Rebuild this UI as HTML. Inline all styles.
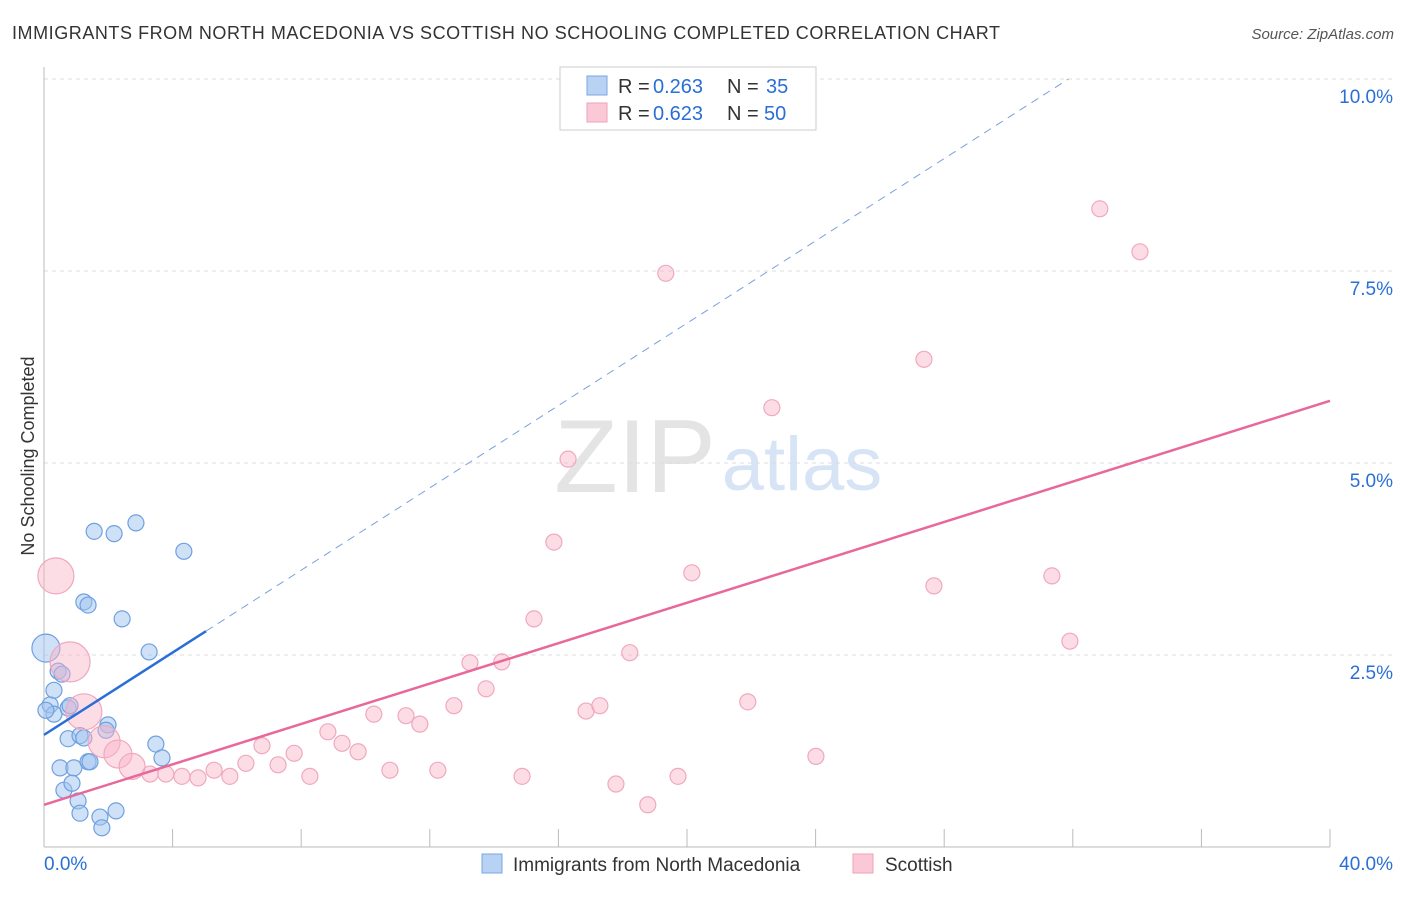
<!DOCTYPE html>
<html><head><meta charset="utf-8"><style>
body{margin:0;background:#fff;font-family:"Liberation Sans",sans-serif;}
svg text{font-family:"Liberation Sans",sans-serif;}
</style></head><body>
<svg id="chart" width="1406" height="892">
<text x="12" y="39" font-size="18" fill="#333" textLength="988" lengthAdjust="spacing">IMMIGRANTS FROM NORTH MACEDONIA VS SCOTTISH NO SCHOOLING COMPLETED CORRELATION CHART</text>
<text x="1394" y="39" font-size="15" fill="#555" font-style="italic" text-anchor="end">Source: ZipAtlas.com</text>
<text x="635" y="492" font-size="104" fill="#e4e4e4" font-family="Liberation Serif" text-anchor="middle">ZIP</text>
<text x="802" y="490" font-size="76" fill="#d6e4f5" text-anchor="middle">atlas</text>
<text transform="translate(34,456) rotate(-90)" font-size="18" fill="#333" text-anchor="middle">No Schooling Completed</text>
<g id="grid"></g><g id="marks"></g>
<g>
<rect x="560" y="67" width="256" height="63" fill="#fff" stroke="#ccc"/>
<rect x="587" y="76" width="20" height="19" fill="#b8d2f4" stroke="#7aa6e0"/>
<rect x="587" y="103" width="20" height="19" fill="#fac8d6" stroke="#f0a0b8"/>
<text x="618" y="93" font-size="20" fill="#333">R = </text>
<text x="653" y="93" font-size="20" fill="#2a6fd6">0.263</text>
<text x="727" y="93" font-size="20" fill="#333">N = </text>
<text x="766" y="93" font-size="20" fill="#2a6fd6">35</text>
<text x="618" y="120" font-size="20" fill="#333">R = </text>
<text x="653" y="120" font-size="20" fill="#2a6fd6">0.623</text>
<text x="727" y="120" font-size="20" fill="#333">N = </text>
<text x="764" y="120" font-size="20" fill="#2a6fd6">50</text>
</g>
<g>
<rect x="482" y="854" width="20" height="19" fill="#b8d2f4" stroke="#7aa6e0"/>
<text x="513" y="871" font-size="19" fill="#333">Immigrants from North Macedonia</text>
<rect x="853" y="854" width="20" height="19" fill="#fac8d6" stroke="#f0a0b8"/>
<text x="885" y="871" font-size="19" fill="#333">Scottish</text>
</g>
</svg>
<script>
const yTicks=[2.5,5.0,7.5,10.0];
const xTickLabels=["0.0%","40.0%"];
const blueX=[1.56,2.18,2.86,4.35,1.24,1.37,2.43,3.27,0.06,0.44,0.56,0.31,0.19,0.31,0.75,0.81,1.99,1.93,0.75,1.12,1.24,3.48,3.67,0.50,0.93,1.37,1.43,0.62,0.87,1.06,1.12,1.74,1.80,2.24,0.06];
const blueY=[4.11,4.08,4.22,3.85,3.19,3.15,2.97,2.54,2.59,2.29,2.25,2.04,1.85,1.73,1.81,1.84,1.59,1.52,1.41,1.45,1.42,1.34,1.16,1.03,1.03,1.11,1.11,0.74,0.83,0.60,0.44,0.39,0.25,0.47,1.78];
const blueR=[8,8,8,8,8,8,8,8,14,8,8,8,8,8,8,8,8,8,8,8,8,8,8,8,8,8,8,8,8,8,8,8,8,8,8];
const pinkX=[0.37,0.81,1.24,1.87,2.30,2.74,3.30,3.79,4.29,4.79,5.29,5.78,6.28,6.78,7.28,7.78,8.27,8.83,9.27,9.77,10.26,10.76,11.26,11.69,12.25,12.75,13.25,13.75,14.24,14.87,15.24,15.86,16.30,16.86,17.29,17.79,18.22,18.78,19.34,19.72,20.15,21.89,22.64,24.01,27.37,27.68,31.35,31.91,32.84,34.09];
const pinkY=[3.53,2.41,1.76,1.37,1.21,1.05,0.95,0.95,0.92,0.90,1.00,0.92,1.09,1.32,1.07,1.22,0.92,1.50,1.35,1.24,1.73,1.00,1.71,1.60,1.00,1.84,2.40,2.06,2.41,0.92,2.97,3.97,5.05,1.77,1.84,0.82,2.53,0.55,7.47,0.92,3.57,1.89,5.72,1.18,6.35,3.40,3.53,2.68,8.31,7.75];
const pinkR=[18,20,18,16,14,13,8,8,8,8,8,8,8,8,8,8,8,8,8,8,8,8,8,8,8,8,8,8,8,8,8,8,8,8,8,8,8,8,8,8,8,8,8,8,8,8,8,8,8,8];
const blueFit=[1.46,0.268]; // intercept, slope
const pinkFit=[0.55,0.1315];
const NS="http://www.w3.org/2000/svg";
const X=v=>44+v/40*1286, Y=v=>847-v/2.5*192;
function mk(t,a,p){const e=document.createElementNS(NS,t);for(const k in a)e.setAttribute(k,a[k]);p.appendChild(e);return e;}
const g=document.getElementById('grid'), m=document.getElementById('marks');
yTicks.forEach(t=>{
 const l=mk('line',{x1:44,x2:1394,y1:Y(t),y2:Y(t),stroke:'#ddd','stroke-dasharray':'4,4'},g);
 
 
 const tx=mk('text',{x:1393,y:Y(t)+24,'font-size':19,fill:'#2a6fd6','text-anchor':'end'},g);
 tx.textContent=t.toFixed(1)+'%';
 
 
});
mk('line',{x1:44,x2:44,y1:67,y2:847,stroke:'#bbb'},g);
mk('line',{x1:44,x2:1330,y1:847,y2:847,stroke:'#bbb'},g);
for(let i=1;i<=10;i++){const x=X(i*4);const t=mk('line',{x1:x,x2:x,y1:829,y2:847,stroke:'#bbb'},g);
 
 }
xTickLabels.forEach((s,i)=>{const tx=mk('text',{x:i?1393:44,y:870,'font-size':19,fill:'#2a6fd6','text-anchor':i?'end':'start'},g);tx.textContent=s;
 
 });
blueX.forEach((v,i)=>{const c=mk('circle',{cx:X(v),cy:Y(blueY[i]),r:blueR[i],fill:'rgba(160,196,240,0.5)',stroke:'#6fa0e0','stroke-width':1.2},m);
 
 });
pinkX.forEach((v,i)=>{const c=mk('circle',{cx:X(v),cy:Y(pinkY[i]),r:pinkR[i],fill:'rgba(248,180,200,0.45)',stroke:'#f0a8bf','stroke-width':1.2},m);
 
 });
const bEnd=5.04, bDash=(10-blueFit[0])/blueFit[1];
const bl=mk('line',{x1:X(0),y1:Y(blueFit[0]),x2:X(bEnd),y2:Y(blueFit[0]+blueFit[1]*bEnd),stroke:'#2a6fd6','stroke-width':2.5},m);


const bd=mk('line',{x1:X(bEnd),y1:Y(blueFit[0]+blueFit[1]*bEnd),x2:X(bDash),y2:Y(10),stroke:'#7aa0dd','stroke-width':1,'stroke-dasharray':'8,6'},m);


const pl=mk('line',{x1:X(0),y1:Y(pinkFit[0]),x2:X(40),y2:Y(pinkFit[0]+pinkFit[1]*40),stroke:'#e8689a','stroke-width':2.5},m);


</script>
</body></html>
